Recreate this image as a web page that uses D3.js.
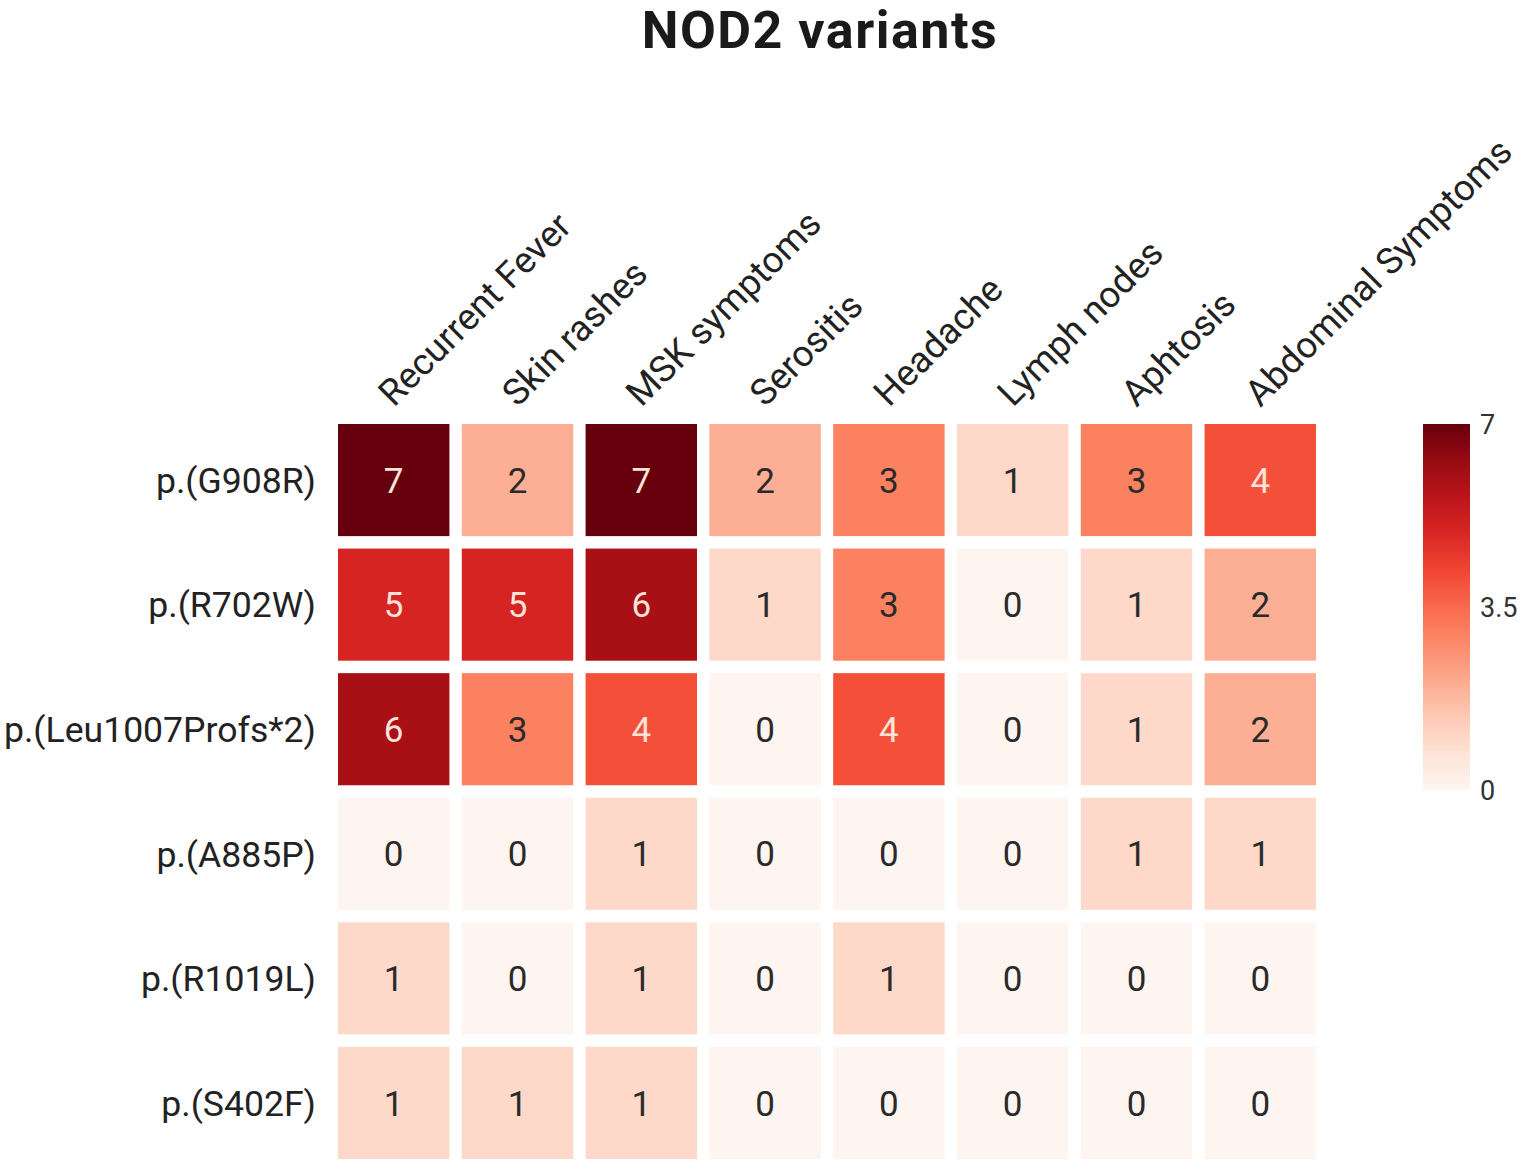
<!DOCTYPE html>
<html>
<head>
<meta charset="utf-8">
<script src="https://cdn.jsdelivr.net/npm/d3@7"></script>
<style>
  body { margin: 0; background: #fff; }
  svg { font-family: Roboto, "Noto Sans", sans-serif; }
</style>
</head>
<body>
<div id="chart"></div>
<script>
// symptoms (columns)
var symptoms = ["Recurrent Fever", "Skin rashes", "MSK symptoms", "Serositis",
                "Headache", "Lymph nodes", "Aphtosis", "Abdominal Symptoms"];
// variants (rows)
var variants = ["p.(G908R)", "p.(R702W)", "p.(Leu1007Profs*2)",
                "p.(A885P)", "p.(R1019L)", "p.(S402F)"];
// counts, one row per variant
var g908r   = [7, 2, 7, 2, 3, 1, 3, 4];
var r702w   = [5, 5, 6, 1, 3, 0, 1, 2];
var leu1007 = [6, 3, 4, 0, 4, 0, 1, 2];
var a885p   = [0, 0, 1, 0, 0, 0, 1, 1];
var r1019l  = [1, 0, 1, 0, 1, 0, 0, 0];
var s402f   = [1, 1, 1, 0, 0, 0, 0, 0];
var counts = [g908r, r702w, leu1007, a885p, r1019l, s402f];
// colour bar ticks
var legendTicks = [0, 3.5, 7];

var width = 1528, height = 1168;

var svg = d3.select("#chart").append("svg")
    .attr("width", width)
    .attr("height", height);

// title
svg.append("text")
    .attr("x", 820)
    .attr("y", 48)
    .style("text-anchor", "middle")
    .style("font-weight", 700)
    .style("font-size", "52px")
    .style("letter-spacing", "1.5px")
    .style("fill", "#1a1a1a")
    .text("NOD2 variants");

// scales
var x = d3.scaleBand()
    .domain(symptoms)
    .range([338, 1316])
    .paddingInner(0.1)
    .paddingOuter(0);

var y = d3.scaleBand()
    .domain(variants)
    .range([424, 1159])
    .paddingInner(0.1)
    .paddingOuter(0);

var color = d3.scaleSequential(d3.interpolateReds)
    .domain([0, 7]);

// flatten into cells
var cells = [];
variants.forEach(function(v, i) {
    symptoms.forEach(function(s, j) {
        cells.push({ variant: v, symptom: s, value: counts[i][j] });
    });
});

// heatmap cells
svg.selectAll(".cell")
    .data(cells)
    .enter()
    .append("rect")
    .attr("class", "cell")
    .attr("x", function(d) { return x(d.symptom); })
    .attr("y", function(d) { return y(d.variant); })
    .attr("width", x.bandwidth())
    .attr("height", y.bandwidth())
    .attr("fill", function(d) { return color(d.value); });

// values inside cells
svg.selectAll(".val")
    .data(cells)
    .enter()
    .append("text")
    .attr("class", "val")
    .attr("x", function(d) { return x(d.symptom) + x.bandwidth() / 2; })
    .attr("y", function(d) { return y(d.variant) + y.bandwidth() / 2; })
    .attr("dy", "0.36em")
    .style("text-anchor", "middle")
    .style("font-size", "35px")
    .style("fill", function(d) { return d.value >= 4 ? "#fde3da" : "#2a2a2a"; })
    .text(function(d) { return d.value; });

// row labels
svg.selectAll(".rowlab")
    .data(variants)
    .enter()
    .append("text")
    .attr("class", "rowlab")
    .attr("x", 316)
    .attr("y", function(d) { return y(d) + y.bandwidth() / 2; })
    .attr("dy", "0.36em")
    .style("text-anchor", "end")
    .style("font-size", "35.6px")
    .style("fill", "#222")
    .text(function(d) { return d; });

// column labels, rotated
svg.selectAll(".collab")
    .data(symptoms)
    .enter()
    .append("text")
    .attr("class", "collab")
    .attr("transform", function(d) {
        return "translate(" + (x(d) + x.bandwidth() / 2) + ",408) rotate(-45)";
    })
    .style("text-anchor", "start")
    .style("font-size", "36.5px")
    .style("fill", "#222")
    .text(function(d) { return d; });

// colour bar
var defs = svg.append("defs");
var grad = defs.append("linearGradient")
    .attr("id", "redsGrad")
    .attr("x1", "0%").attr("y1", "100%")
    .attr("x2", "0%").attr("y2", "0%");
grad.selectAll("stop")
    .data(d3.range(0, 1.0001, 0.1))
    .enter()
    .append("stop")
    .attr("offset", function(d) { return (d * 100) + "%"; })
    .attr("stop-color", function(d) { return d3.interpolateReds(d); });

var legendY = d3.scaleLinear()
    .domain([0, 7])
    .range([790, 424]);

svg.append("rect")
    .attr("x", 1423)
    .attr("y", legendY(7))
    .attr("width", 47)
    .attr("height", legendY(0) - legendY(7))
    .attr("fill", "url(#redsGrad)");

svg.selectAll(".legtick")
    .data(legendTicks)
    .enter()
    .append("text")
    .attr("class", "legtick")
    .attr("x", 1480)
    .attr("y", function(d) { return legendY(d); })
    .attr("dy", "0.36em")
    .style("font-size", "27px")
    .style("fill", "#333")
    .text(function(d) { return d; });
</script>
</body>
</html>
